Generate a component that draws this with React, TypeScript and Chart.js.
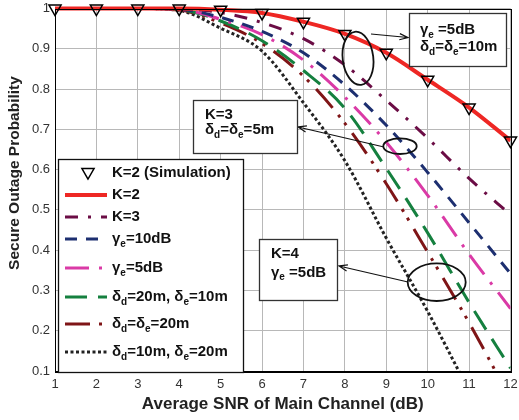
import React, { useEffect, useRef } from "react";
import { Chart, registerables } from "chart.js";

Chart.register(...registerables);

const FONT = "'Liberation Sans', Arial, Helvetica, sans-serif";

// Average SNR of main channel (dB)
const snr = [1, 2, 3, 4, 5, 6, 7, 8, 9, 10, 11, 12];
const yTicks = [0.1, 0.2, 0.3, 0.4, 0.5, 0.6, 0.7, 0.8, 0.9, 1];

// Secure outage probability per series
const k2Sim = [1, 1, 1, 1, 0.997, 0.989, 0.967, 0.937, 0.89, 0.823, 0.754, 0.672];
const k2 = [1, 1, 1, 1, 0.997, 0.989, 0.967, 0.937, 0.89, 0.823, 0.754, 0.672];
const k3 = [1, 1, 1, 0.999, 0.99, 0.965, 0.925, 0.86, 0.772, 0.678, 0.578, 0.488];
const gamma10 = [1, 1, 1, 0.998, 0.978, 0.943, 0.89, 0.81, 0.71, 0.593, 0.468, 0.342];
const gamma5 = [1, 1, 1, 0.998, 0.973, 0.935, 0.872, 0.78, 0.668, 0.536, 0.39, 0.255];
const d20e10 = [1, 1, 1, 0.997, 0.969, 0.92, 0.846, 0.752, 0.603, 0.443, 0.27, 0.107];
const d20e20 = [1, 1, 1, 0.996, 0.964, 0.913, 0.832, 0.715, 0.565, 0.395, 0.22, 0.03];
const d10e20 = [1, 1, 1, 0.995, 0.951, 0.894, 0.766, 0.622, 0.43, 0.248, 0.05];

const seriesLabels = [
  "K=2 (Simulation)",
  "K=2",
  "K=3",
  "γ_e=10dB",
  "γ_e=5dB",
  "δ_d=20m, δ_e=10m",
  "δ_d=δ_e=20m",
  "δ_d=10m, δ_e=20m",
];
const seriesColors = ["#000000", "#ee2724", "#6b0d45", "#1d2f70", "#da3aa6", "#15803f", "#7f1517", "#222222"];
const seriesWidths = [1.5, 4, 3, 3, 3, 3, 3, 3];
const seriesDashes: number[][] = [
  [],
  [],
  [13, 10, 3, 10],
  [12, 9],
  [24, 10, 3, 10],
  [22, 11],
  [25, 9, 3, 7, 3, 10],
  [3, 2.5],
];
const seriesValues = [k2Sim, k2, k3, gamma10, gamma5, d20e10, d20e20, d10e20];

const xTitle = "Average SNR of Main Channel (dB)";
const yTitle = "Secure Outage Probability";

function drawRich(ctx: CanvasRenderingContext2D, text: string, x: number, y: number, size: number) {
  let cx = x;
  let run = "";
  const flush = () => {
    if (!run) return;
    ctx.font = `bold ${size}px ${FONT}`;
    ctx.fillText(run, cx, y);
    cx += ctx.measureText(run).width;
    run = "";
  };
  for (let i = 0; i < text.length; i++) {
    const ch = text[i];
    if (ch === "_" && i + 1 < text.length) {
      flush();
      const s = text[i + 1];
      ctx.font = `bold ${Math.round(size * 0.68)}px ${FONT}`;
      ctx.fillText(s, cx, y + size * 0.32);
      cx += ctx.measureText(s).width;
      i++;
    } else {
      run += ch;
    }
  }
  flush();
}

function drawArrow(ctx: CanvasRenderingContext2D, x1: number, y1: number, x2: number, y2: number) {
  ctx.beginPath();
  ctx.moveTo(x1, y1);
  ctx.lineTo(x2, y2);
  const a = Math.atan2(y2 - y1, x2 - x1);
  const L = 9;
  ctx.moveTo(x2 + Math.cos(a + Math.PI - 0.35) * L, y2 + Math.sin(a + Math.PI - 0.35) * L);
  ctx.lineTo(x2, y2);
  ctx.lineTo(x2 + Math.cos(a + Math.PI + 0.35) * L, y2 + Math.sin(a + Math.PI + 0.35) * L);
  ctx.stroke();
}

function drawTriangle(ctx: CanvasRenderingContext2D, x: number, y: number, r: number) {
  ctx.beginPath();
  for (let k = 0; k < 3; k++) {
    const ang = Math.PI + (k * 2 * Math.PI) / 3;
    const px = x + Math.sin(ang) * r;
    const py = y - Math.cos(ang) * r;
    if (k === 0) ctx.moveTo(px, py);
    else ctx.lineTo(px, py);
  }
  ctx.closePath();
  ctx.stroke();
}

const overlayPlugin = {
  id: "overlay",
  afterDraw(chart: any) {
    const ctx: CanvasRenderingContext2D = chart.ctx;
    const ca = chart.chartArea;
    ctx.save();
    // plot box
    ctx.strokeStyle = "#000";
    ctx.lineWidth = 1;
    ctx.setLineDash([]);
    ctx.strokeRect(Math.round(ca.left) + 0.5, Math.round(ca.top) + 0.5, Math.round(ca.right - ca.left), Math.round(ca.bottom - ca.top));

    // y title
    ctx.save();
    ctx.translate(15, 173);
    ctx.rotate(-Math.PI / 2);
    ctx.fillStyle = "#222";
    ctx.font = `bold 15.5px ${FONT}`;
    ctx.textAlign = "center";
    ctx.textBaseline = "middle";
    ctx.fillText(yTitle, 0, 0);
    ctx.restore();

    // ellipses and arrows
    ctx.strokeStyle = "#111";
    ctx.lineWidth = 1.8;
    ctx.beginPath();
    ctx.ellipse(358, 58.3, 15.3, 26.7, -0.12, 0, Math.PI * 2);
    ctx.stroke();
    ctx.beginPath();
    ctx.ellipse(400, 146.2, 16.7, 7.8, 0, 0, Math.PI * 2);
    ctx.stroke();
    ctx.beginPath();
    ctx.ellipse(436.7, 282.2, 29, 18.8, 0, 0, Math.PI * 2);
    ctx.stroke();
    ctx.lineWidth = 1.2;
    drawArrow(ctx, 371, 34, 408, 37.5);
    drawArrow(ctx, 384, 147, 298, 127);
    drawArrow(ctx, 408, 282, 339, 266);

    // annotation boxes
    ctx.textAlign = "left";
    ctx.textBaseline = "middle";
    const boxes = [
      { x: 409, y: 13, w: 97, h: 53, tx: 420, lines: ["γ_e =5dB", "δ_d=δ_e=10m"], ly: [30, 47] },
      { x: 193, y: 100, w: 104, h: 53, tx: 205, lines: ["K=3", "δ_d=δ_e=5m"], ly: [115, 130] },
      { x: 259, y: 239, w: 78, h: 61, tx: 271, lines: ["K=4", "γ_e =5dB"], ly: [254, 272.5] },
    ];
    for (const b of boxes) {
      ctx.fillStyle = "#fff";
      ctx.fillRect(b.x, b.y, b.w, b.h);
      ctx.strokeStyle = "#333";
      ctx.lineWidth = 1.3;
      ctx.strokeRect(b.x + 0.5, b.y + 0.5, b.w, b.h);
      ctx.fillStyle = "#111";
      b.lines.forEach((t, i) => drawRich(ctx, t, b.tx, b.ly[i], 15));
    }

    // legend
    const lx = 58, ly = 159, lw = 185, lh = 213;
    ctx.fillStyle = "#fff";
    ctx.fillRect(lx, ly, lw, lh);
    ctx.strokeStyle = "#111";
    ctx.lineWidth = 1.3;
    ctx.strokeRect(lx + 0.5, ly + 0.5, lw, lh);
    const rowY = [173, 195, 217, 239, 268, 297, 324, 352];
    seriesLabels.forEach((label, i) => {
      const y = rowY[i];
      ctx.strokeStyle = seriesColors[i];
      ctx.lineWidth = seriesWidths[i];
      if (i === 0) {
        ctx.setLineDash([]);
        drawTriangle(ctx, 88, y - 1, 7);
      } else {
        ctx.setLineDash(seriesDashes[i]);
        ctx.lineCap = "butt";
        ctx.beginPath();
        ctx.moveTo(65, y);
        ctx.lineTo(107, y);
        ctx.stroke();
        ctx.setLineDash([]);
      }
      ctx.fillStyle = "#111";
      drawRich(ctx, label, 112, y, 15);
    });
    ctx.restore();
  },
};

export default function App() {
  const ref = useRef<HTMLCanvasElement | null>(null);
  useEffect(() => {
    if (!ref.current) return;
    const datasets = seriesValues.map((vals, i) => {
      const isSim = i === 0;
      return {
        label: seriesLabels[i],
        data: vals.map((v, j) => ({ x: snr[j], y: v })),
        borderColor: seriesColors[i],
        backgroundColor: "rgba(0,0,0,0)",
        borderWidth: seriesWidths[i],
        borderDash: seriesDashes[i],
        borderCapStyle: "butt",
        showLine: !isSim,
        pointRadius: isSim ? 7 : 0,
        pointStyle: "triangle",
        rotation: 180,
        pointBorderColor: "#000",
        pointBackgroundColor: "rgba(0,0,0,0)",
        pointBorderWidth: 1.5,
        cubicInterpolationMode: "monotone",
        clip: isSim ? false : { left: 0, top: 3, right: 0, bottom: 0 },
      };
    });
    const chart = new Chart(ref.current, {
      type: "line",
      data: { datasets } as any,
      options: {
        responsive: false,
        animation: false,
        devicePixelRatio: 1,
        layout: { padding: { top: 7, right: 7, left: 0, bottom: 0 } },
        plugins: { legend: { display: false }, tooltip: { enabled: false } },
        scales: {
          x: {
            type: "linear",
            min: 1,
            max: 12,
            ticks: { stepSize: 1, font: { family: FONT, size: 13 }, color: "#333", padding: 6 },
            grid: { color: "#b8b8b8", lineWidth: 1, drawTicks: false },
            border: { color: "#000", width: 1 },
            title: {
              display: true,
              text: xTitle,
              font: { family: FONT, size: 17, weight: "bold" },
              color: "#222",
              padding: { top: 0, bottom: 5 },
            },
            afterFit: (s: any) => {
              s.height = 49;
              s.paddingLeft = 0;
              s.paddingRight = 0;
            },
          },
          y: {
            type: "linear",
            min: 0.1,
            max: 1,
            afterBuildTicks: (s: any) => {
              s.ticks = yTicks.map((v) => ({ value: v }));
            },
            ticks: {
              font: { family: FONT, size: 13 },
              color: "#333",
              padding: 5,
              callback: (v: any) => (Math.abs(v - 1) < 1e-9 ? "1" : Number(v).toFixed(1)),
            },
            grid: { color: "#b8b8b8", lineWidth: 1, drawTicks: false },
            border: { color: "#000", width: 1 },
            afterFit: (s: any) => {
              s.width = 55;
              s.paddingTop = 0;
              s.paddingBottom = 0;
            },
          },
        },
      } as any,
      plugins: [overlayPlugin],
    });
    return () => chart.destroy();
  }, []);
  return (
    <div style={{ position: "fixed", left: 0, top: 0, width: 519, height: 420, background: "#fff" }}>
      <canvas ref={ref} width={519} height={420} style={{ display: "block" }} />
    </div>
  );
}
